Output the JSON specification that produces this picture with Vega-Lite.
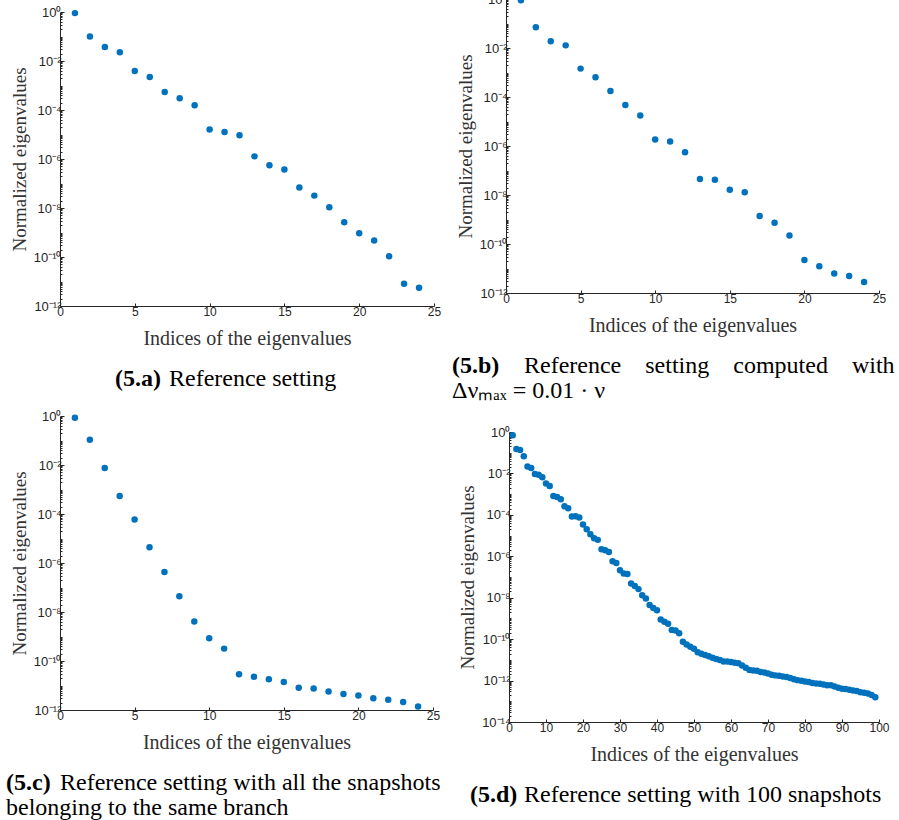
{
  "$schema": "https://vega.github.io/schema/vega-lite/v6.json",
  "background": "white",
  "padding": {"left": 6, "top": -7, "right": 0, "bottom": 0},
  "spacing": 7,
  "datasets": {
    "a": [
      {"i": 1, "v": 0.9}, {"i": 2, "v": 0.1}, {"i": 3, "v": 0.037}, {"i": 4, "v": 0.023},
      {"i": 5, "v": 3.9e-3}, {"i": 6, "v": 2.2e-3}, {"i": 7, "v": 5.4e-4}, {"i": 8, "v": 3.0e-4},
      {"i": 9, "v": 1.56e-4}, {"i": 10, "v": 1.6e-5}, {"i": 11, "v": 1.26e-5}, {"i": 12, "v": 9.3e-6},
      {"i": 13, "v": 1.28e-6}, {"i": 14, "v": 5.5e-7}, {"i": 15, "v": 3.7e-7}, {"i": 16, "v": 6.9e-8},
      {"i": 17, "v": 3.2e-8}, {"i": 18, "v": 1.07e-8}, {"i": 19, "v": 2.6e-9}, {"i": 20, "v": 9.3e-10},
      {"i": 21, "v": 4.7e-10}, {"i": 22, "v": 1.07e-10}, {"i": 23, "v": 8.1e-12}, {"i": 24, "v": 5.6e-12}
    ],
    "b": [
      {"i": 1, "v": 0.89}, {"i": 2, "v": 0.07}, {"i": 3, "v": 0.0188}, {"i": 4, "v": 0.0128},
      {"i": 5, "v": 1.44e-3}, {"i": 6, "v": 6.4e-4}, {"i": 7, "v": 1.75e-4}, {"i": 8, "v": 4.7e-5},
      {"i": 9, "v": 1.77e-5}, {"i": 10, "v": 1.86e-6}, {"i": 11, "v": 1.54e-6}, {"i": 12, "v": 5.5e-7},
      {"i": 13, "v": 4.5e-8}, {"i": 14, "v": 4.2e-8}, {"i": 15, "v": 1.63e-8}, {"i": 16, "v": 1.3e-8},
      {"i": 17, "v": 1.4e-9}, {"i": 18, "v": 7.3e-10}, {"i": 19, "v": 2.2e-10}, {"i": 20, "v": 2.2e-11},
      {"i": 21, "v": 1.23e-11}, {"i": 22, "v": 6.3e-12}, {"i": 23, "v": 4.9e-12}, {"i": 24, "v": 2.8e-12}
    ],
    "c": [
      {"i": 1, "v": 0.85}, {"i": 2, "v": 0.108}, {"i": 3, "v": 7.6e-3}, {"i": 4, "v": 5.4e-4},
      {"i": 5, "v": 6.0e-5}, {"i": 6, "v": 4.4e-6}, {"i": 7, "v": 4.3e-7}, {"i": 8, "v": 4.4e-8},
      {"i": 9, "v": 4.1e-9}, {"i": 10, "v": 8.5e-10}, {"i": 11, "v": 3.2e-10}, {"i": 12, "v": 2.9e-11},
      {"i": 13, "v": 2.3e-11}, {"i": 14, "v": 1.8e-11}, {"i": 15, "v": 1.38e-11}, {"i": 16, "v": 8.1e-12},
      {"i": 17, "v": 7.6e-12}, {"i": 18, "v": 5.7e-12}, {"i": 19, "v": 4.5e-12}, {"i": 20, "v": 3.9e-12},
      {"i": 21, "v": 3.0e-12}, {"i": 22, "v": 2.6e-12}, {"i": 23, "v": 2.1e-12}, {"i": 24, "v": 1.38e-12}
    ],
    "d": [
      {"i": 1, "v": 0.69}, {"i": 2, "v": 0.151}, {"i": 3, "v": 0.135}, {"i": 4, "v": 0.068},
      {"i": 5, "v": 0.0214}, {"i": 6, "v": 0.0182}, {"i": 7, "v": 0.0093}, {"i": 8, "v": 0.0087},
      {"i": 9, "v": 0.0065}, {"i": 10, "v": 0.0033}, {"i": 11, "v": 0.0025}, {"i": 12, "v": 8.1e-4},
      {"i": 13, "v": 7.2e-4}, {"i": 14, "v": 5.6e-4}, {"i": 15, "v": 2.6e-4}, {"i": 16, "v": 2.1e-4},
      {"i": 17, "v": 8.3e-5}, {"i": 18, "v": 8.5e-5}, {"i": 19, "v": 7.4e-5}, {"i": 20, "v": 3.4e-5},
      {"i": 21, "v": 2.0e-5}, {"i": 22, "v": 1.15e-5}, {"i": 23, "v": 7.4e-6}, {"i": 24, "v": 6.2e-6},
      {"i": 25, "v": 2.2e-6}, {"i": 26, "v": 1.95e-6}, {"i": 27, "v": 1.62e-6}, {"i": 28, "v": 5.8e-7},
      {"i": 29, "v": 4.7e-7}, {"i": 30, "v": 2.1e-7}, {"i": 31, "v": 1.48e-7}, {"i": 32, "v": 1.41e-7},
      {"i": 33, "v": 4.8e-8}, {"i": 34, "v": 3.7e-8}, {"i": 35, "v": 2.6e-8}, {"i": 36, "v": 1.32e-8},
      {"i": 37, "v": 9.1e-9}, {"i": 38, "v": 4.4e-9}, {"i": 39, "v": 3.2e-9}, {"i": 40, "v": 2.5e-9},
      {"i": 41, "v": 8.9e-10}, {"i": 42, "v": 6.9e-10}, {"i": 43, "v": 5.5e-10}, {"i": 44, "v": 2.8e-10},
      {"i": 45, "v": 2.6e-10}, {"i": 46, "v": 1.95e-10}, {"i": 47, "v": 7.4e-11}, {"i": 48, "v": 5.5e-11},
      {"i": 49, "v": 4.3e-11}, {"i": 50, "v": 3.4e-11}, {"i": 51, "v": 2.3e-11}, {"i": 52, "v": 1.95e-11},
      {"i": 53, "v": 1.7e-11}, {"i": 54, "v": 1.51e-11}, {"i": 55, "v": 1.26e-11}, {"i": 56, "v": 1.1e-11},
      {"i": 57, "v": 9.8e-12}, {"i": 58, "v": 8.3e-12}, {"i": 59, "v": 8.3e-12}, {"i": 60, "v": 7.8e-12},
      {"i": 61, "v": 7.2e-12}, {"i": 62, "v": 6.8e-12}, {"i": 63, "v": 5.4e-12}, {"i": 64, "v": 4.2e-12},
      {"i": 65, "v": 3.2e-12}, {"i": 66, "v": 3.1e-12}, {"i": 67, "v": 2.95e-12}, {"i": 68, "v": 2.6e-12},
      {"i": 69, "v": 2.45e-12}, {"i": 70, "v": 2.2e-12}, {"i": 71, "v": 1.9e-12}, {"i": 72, "v": 1.78e-12},
      {"i": 73, "v": 1.7e-12}, {"i": 74, "v": 1.58e-12}, {"i": 75, "v": 1.48e-12}, {"i": 76, "v": 1.32e-12},
      {"i": 77, "v": 1.17e-12}, {"i": 78, "v": 1.05e-12}, {"i": 79, "v": 9.8e-13}, {"i": 80, "v": 9.1e-13},
      {"i": 81, "v": 8.5e-13}, {"i": 82, "v": 7.6e-13}, {"i": 83, "v": 7.2e-13}, {"i": 84, "v": 7.1e-13},
      {"i": 85, "v": 6.5e-13}, {"i": 86, "v": 6.0e-13}, {"i": 87, "v": 5.9e-13}, {"i": 88, "v": 5.2e-13},
      {"i": 89, "v": 4.5e-13}, {"i": 90, "v": 4.0e-13}, {"i": 91, "v": 3.9e-13}, {"i": 92, "v": 3.6e-13},
      {"i": 93, "v": 3.3e-13}, {"i": 94, "v": 3.1e-13}, {"i": 95, "v": 2.75e-13}, {"i": 96, "v": 2.6e-13},
      {"i": 97, "v": 2.4e-13}, {"i": 98, "v": 2.0e-13}, {"i": 99, "v": 1.58e-13}
    ]
  },
  "vconcat": [
    {
      "spacing": 11,
      "hconcat": [
        {
          "width": 374,
          "height": 307,
          "data": {"name": "a"},
          "title": {"text": "(5.a)", "subtitle": "\u200b\u00a0\u00a0\u00a0\u00a0\u00a0\u00a0\u00a0\u00a0\u00a0Reference setting", "dx": 55},
          "mark": {"type": "circle", "size": 42, "color": "#0072BD", "opacity": 1},
          "encoding": {
            "x": {"field": "i", "type": "quantitative", "scale": {"domain": [0, 25]},
              "axis": {"values": [0, 5, 10, 15, 20, 25], "title": "Indices of the eigenvalues"}},
            "y": {"field": "v", "type": "quantitative",
              "scale": {"type": "log", "domain": [1e-12, 1], "range": [307, 13]},
              "axis": {"titleY": 160, "title": "Normalized eigenvalues",
                "values": [1e-12,2e-12,3e-12,4e-12,5e-12,6e-12,7e-12,8e-12,9e-12,1e-11,2e-11,3e-11,4e-11,5e-11,6e-11,7e-11,8e-11,9e-11,1e-10,2e-10,3e-10,4e-10,5e-10,6e-10,7e-10,8e-10,9e-10,1e-9,2e-9,3e-9,4e-9,5e-9,6e-9,7e-9,8e-9,9e-9,1e-8,2e-8,3e-8,4e-8,5e-8,6e-8,7e-8,8e-8,9e-8,1e-7,2e-7,3e-7,4e-7,5e-7,6e-7,7e-7,8e-7,9e-7,1e-6,2e-6,3e-6,4e-6,5e-6,6e-6,7e-6,8e-6,9e-6,1e-5,2e-5,3e-5,4e-5,5e-5,6e-5,7e-5,8e-5,9e-5,1e-4,2e-4,3e-4,4e-4,5e-4,6e-4,7e-4,8e-4,9e-4,1e-3,2e-3,3e-3,4e-3,5e-3,6e-3,7e-3,8e-3,9e-3,0.01,0.02,0.03,0.04,0.05,0.06,0.07,0.08,0.09,0.1,0.2,0.3,0.4,0.5,0.6,0.7,0.8,0.9,1],
                "labelExpr": "abs(log(datum.value)/LN10 - round(log(datum.value)/LN10)) < 0.001 && round(log(datum.value)/LN10) % 2 == 0 ? (round(log(datum.value)/LN10) == 0 ? '10\u2070' : '10\u207b' + (round(-log(datum.value)/LN10) >= 10 ? '\u00b9' : '') + substring('\u2070\u00b9\u00b2\u00b3\u2074\u2075\u2076\u2077\u2078\u2079', round(-log(datum.value)/LN10) % 10, round(-log(datum.value)/LN10) % 10 + 1)) : ''",
                "tickSize": {"condition": {"test": "abs(log(datum.value)/LN10 - round(log(datum.value)/LN10)) < 0.001 && round(log(datum.value)/LN10) % 2 == 0", "value": -4}, "value": -2}}}
          }
        },
        {
          "width": 373,
          "height": 294,
          "data": {"name": "b"},
          "title": {"text": "(5.b)", "subtitle": ["\u200b\u00a0\u00a0\u00a0\u00a0\u00a0\u00a0\u00a0\u00a0\u00a0\u00a0\u00a0\u00a0Reference\u00a0\u00a0\u00a0\u00a0setting\u00a0\u00a0\u00a0\u00a0computed\u00a0\u00a0\u00a0\u00a0with", "\u0394\u03bd\u2098\u2090\u2093 = 0.01 \u00b7 \u03bd"], "dx": -54},
          "mark": {"type": "circle", "size": 42, "color": "#0072BD", "opacity": 1},
          "encoding": {
            "x": {"field": "i", "type": "quantitative", "scale": {"domain": [0, 25]},
              "axis": {"values": [0, 5, 10, 15, 20, 25], "title": "Indices of the eigenvalues"}},
            "y": {"field": "v", "type": "quantitative",
              "scale": {"type": "log", "domain": [1e-12, 1]},
              "axis": {"title": "Normalized eigenvalues",
                "values": [1e-12,2e-12,3e-12,4e-12,5e-12,6e-12,7e-12,8e-12,9e-12,1e-11,2e-11,3e-11,4e-11,5e-11,6e-11,7e-11,8e-11,9e-11,1e-10,2e-10,3e-10,4e-10,5e-10,6e-10,7e-10,8e-10,9e-10,1e-9,2e-9,3e-9,4e-9,5e-9,6e-9,7e-9,8e-9,9e-9,1e-8,2e-8,3e-8,4e-8,5e-8,6e-8,7e-8,8e-8,9e-8,1e-7,2e-7,3e-7,4e-7,5e-7,6e-7,7e-7,8e-7,9e-7,1e-6,2e-6,3e-6,4e-6,5e-6,6e-6,7e-6,8e-6,9e-6,1e-5,2e-5,3e-5,4e-5,5e-5,6e-5,7e-5,8e-5,9e-5,1e-4,2e-4,3e-4,4e-4,5e-4,6e-4,7e-4,8e-4,9e-4,1e-3,2e-3,3e-3,4e-3,5e-3,6e-3,7e-3,8e-3,9e-3,0.01,0.02,0.03,0.04,0.05,0.06,0.07,0.08,0.09,0.1,0.2,0.3,0.4,0.5,0.6,0.7,0.8,0.9,1],
                "labelExpr": "abs(log(datum.value)/LN10 - round(log(datum.value)/LN10)) < 0.001 && round(log(datum.value)/LN10) % 2 == 0 ? (round(log(datum.value)/LN10) == 0 ? '10\u2070' : '10\u207b' + (round(-log(datum.value)/LN10) >= 10 ? '\u00b9' : '') + substring('\u2070\u00b9\u00b2\u00b3\u2074\u2075\u2076\u2077\u2078\u2079', round(-log(datum.value)/LN10) % 10, round(-log(datum.value)/LN10) % 10 + 1)) : ''",
                "tickSize": {"condition": {"test": "abs(log(datum.value)/LN10 - round(log(datum.value)/LN10)) < 0.001 && round(log(datum.value)/LN10) % 2 == 0", "value": -4}, "value": -2}}}
          }
        }
      ]
    },
    {
      "spacing": 17,
      "hconcat": [
        {
          "width": 373,
          "height": 294,
          "data": {"name": "c"},
          "title": {"text": "(5.c)", "subtitle": ["\u200b\u00a0\u00a0\u00a0\u00a0\u00a0\u00a0\u00a0\u00a0\u00a0Reference setting with all the snapshots", "belonging to the same branch"], "dx": -54},
          "mark": {"type": "circle", "size": 42, "color": "#0072BD", "opacity": 1},
          "encoding": {
            "x": {"field": "i", "type": "quantitative", "scale": {"domain": [0, 25]},
              "axis": {"values": [0, 5, 10, 15, 20, 25], "title": "Indices of the eigenvalues"}},
            "y": {"field": "v", "type": "quantitative",
              "scale": {"type": "log", "domain": [1e-12, 1]},
              "axis": {"title": "Normalized eigenvalues",
                "values": [1e-12,2e-12,3e-12,4e-12,5e-12,6e-12,7e-12,8e-12,9e-12,1e-11,2e-11,3e-11,4e-11,5e-11,6e-11,7e-11,8e-11,9e-11,1e-10,2e-10,3e-10,4e-10,5e-10,6e-10,7e-10,8e-10,9e-10,1e-9,2e-9,3e-9,4e-9,5e-9,6e-9,7e-9,8e-9,9e-9,1e-8,2e-8,3e-8,4e-8,5e-8,6e-8,7e-8,8e-8,9e-8,1e-7,2e-7,3e-7,4e-7,5e-7,6e-7,7e-7,8e-7,9e-7,1e-6,2e-6,3e-6,4e-6,5e-6,6e-6,7e-6,8e-6,9e-6,1e-5,2e-5,3e-5,4e-5,5e-5,6e-5,7e-5,8e-5,9e-5,1e-4,2e-4,3e-4,4e-4,5e-4,6e-4,7e-4,8e-4,9e-4,1e-3,2e-3,3e-3,4e-3,5e-3,6e-3,7e-3,8e-3,9e-3,0.01,0.02,0.03,0.04,0.05,0.06,0.07,0.08,0.09,0.1,0.2,0.3,0.4,0.5,0.6,0.7,0.8,0.9,1],
                "labelExpr": "abs(log(datum.value)/LN10 - round(log(datum.value)/LN10)) < 0.001 && round(log(datum.value)/LN10) % 2 == 0 ? (round(log(datum.value)/LN10) == 0 ? '10\u2070' : '10\u207b' + (round(-log(datum.value)/LN10) >= 10 ? '\u00b9' : '') + substring('\u2070\u00b9\u00b2\u00b3\u2074\u2075\u2076\u2077\u2078\u2079', round(-log(datum.value)/LN10) % 10, round(-log(datum.value)/LN10) % 10 + 1)) : ''",
                "tickSize": {"condition": {"test": "abs(log(datum.value)/LN10 - round(log(datum.value)/LN10)) < 0.001 && round(log(datum.value)/LN10) % 2 == 0", "value": -4}, "value": -2}}}
          }
        },
        {
          "width": 370,
          "height": 306,
          "data": {"name": "d"},
          "title": {"text": "(5.d)", "subtitle": "\u200b\u00a0\u00a0\u00a0\u00a0\u00a0\u00a0\u00a0\u00a0\u00a0Reference setting with 100 snapshots", "dx": -39},
          "mark": {"type": "circle", "size": 42, "color": "#0072BD", "opacity": 1},
          "encoding": {
            "x": {"field": "i", "type": "quantitative", "scale": {"domain": [0, 100]},
              "axis": {"values": [0, 10, 20, 30, 40, 50, 60, 70, 80, 90, 100], "title": "Indices of the eigenvalues"}},
            "y": {"field": "v", "type": "quantitative",
              "scale": {"type": "log", "domain": [1e-14, 1], "range": [306, 16]},
              "axis": {"titleY": 161, "title": "Normalized eigenvalues",
                "values": [1e-14,2e-14,3e-14,4e-14,5e-14,6e-14,7e-14,8e-14,9e-14,1e-13,2e-13,3e-13,4e-13,5e-13,6e-13,7e-13,8e-13,9e-13,1e-12,2e-12,3e-12,4e-12,5e-12,6e-12,7e-12,8e-12,9e-12,1e-11,2e-11,3e-11,4e-11,5e-11,6e-11,7e-11,8e-11,9e-11,1e-10,2e-10,3e-10,4e-10,5e-10,6e-10,7e-10,8e-10,9e-10,1e-9,2e-9,3e-9,4e-9,5e-9,6e-9,7e-9,8e-9,9e-9,1e-8,2e-8,3e-8,4e-8,5e-8,6e-8,7e-8,8e-8,9e-8,1e-7,2e-7,3e-7,4e-7,5e-7,6e-7,7e-7,8e-7,9e-7,1e-6,2e-6,3e-6,4e-6,5e-6,6e-6,7e-6,8e-6,9e-6,1e-5,2e-5,3e-5,4e-5,5e-5,6e-5,7e-5,8e-5,9e-5,1e-4,2e-4,3e-4,4e-4,5e-4,6e-4,7e-4,8e-4,9e-4,1e-3,2e-3,3e-3,4e-3,5e-3,6e-3,7e-3,8e-3,9e-3,0.01,0.02,0.03,0.04,0.05,0.06,0.07,0.08,0.09,0.1,0.2,0.3,0.4,0.5,0.6,0.7,0.8,0.9,1],
                "labelExpr": "abs(log(datum.value)/LN10 - round(log(datum.value)/LN10)) < 0.001 && round(log(datum.value)/LN10) % 2 == 0 ? (round(log(datum.value)/LN10) == 0 ? '10\u2070' : '10\u207b' + (round(-log(datum.value)/LN10) >= 10 ? '\u00b9' : '') + substring('\u2070\u00b9\u00b2\u00b3\u2074\u2075\u2076\u2077\u2078\u2079', round(-log(datum.value)/LN10) % 10, round(-log(datum.value)/LN10) % 10 + 1)) : ''",
                "tickSize": {"condition": {"test": "abs(log(datum.value)/LN10 - round(log(datum.value)/LN10)) < 0.001 && round(log(datum.value)/LN10) % 2 == 0", "value": -4}, "value": -2}}}
          }
        }
      ]
    }
  ],
  "config": {
    "view": {"stroke": null},
    "axis": {
      "grid": false,
      "domainColor": "#262626",
      "domainWidth": 1,
      "tickColor": "#262626",
      "tickWidth": 1,
      "labelFont": "Liberation Sans",
      "labelFontSize": 12,
      "labelColor": "#262626",
      "labelPadding": 3,
      "labelOverlap": false,
      "labelFlush": false,
      "titleFont": "Liberation Serif",
      "titleFontSize": 20,
      "titleFontWeight": "normal",
      "titleColor": "#333333"
    },
    "axisX": {"tickSize": -3, "titlePadding": 11},
    "axisY": {"titlePadding": 4, "labelFontSize": 13, "titleFontSize": 19},
    "title": {
      "orient": "bottom",
      "anchor": "start",
      "frame": "group",
      "font": "Liberation Serif",
      "fontSize": 24,
      "fontWeight": "bold",
      "color": "black",
      "subtitleFont": "Liberation Serif",
      "subtitleFontSize": 24,
      "subtitleFontWeight": "normal",
      "subtitleColor": "black",
      "subtitlePadding": -24,
      "subtitleLineHeight": 25,
      "offset": 19
    }
  }
}
